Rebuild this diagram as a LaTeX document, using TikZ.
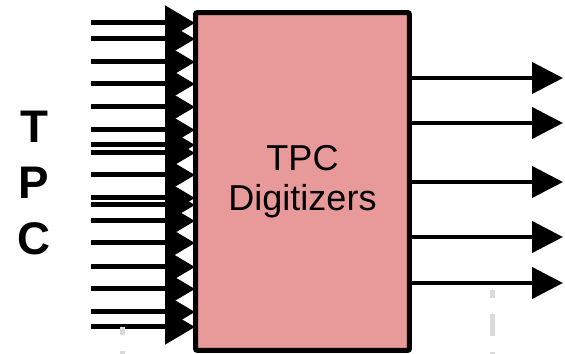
\documentclass[tikz,border=0pt]{standalone}
\usepackage{fontspec}
\setmainfont{Liberation Sans}
\usepackage{tikz}
\usetikzlibrary{arrows.meta,positioning}
\definecolor{digpink}{HTML}{E8999A}
\definecolor{guidegray}{HTML}{D9D9D9}
\tikzset{
  digbox/.style={draw=black,fill=digpink,line width=0.1cm,rounded corners=0.04cm,
    minimum width=4.28cm,minimum height=6.76cm,align=center,
    font=\fontsize{20.5pt}{22.8pt}\selectfont},
  inarrow/.style={-{Triangle[length=0.6cm,width=0.68cm]},line width=0.1cm,black},
  outarrow/.style={-{Triangle[length=0.62cm,width=0.62cm]},line width=0.085cm,black},
  guide/.style={guidegray,line width=0.1cm,dash pattern=on 0.16cm off 0.32cm on 0.44cm off 0.32cm},
  sidelbl/.style={font=\fontsize{26pt}{28pt}\selectfont\bfseries,inner sep=0pt},
}

\begin{document}
\begin{tikzpicture}[x=0.02cm,y=-0.02cm]
    \useasboundingbox (0,0) rectangle (565,354);
    \node[digbox] (dig) at (302.5,181.5) {TPC\\Digitizers};
    % inputs from the TPC
    \foreach \yy [count=\i] in {23,39,62,84,107,130,145,153,175,198,205,221,243,267,289,312,327}{
      \coordinate (in\i) at (91,\yy);
      \draw[inarrow] (in\i) -- ([xshift=0.04cm]in\i -| dig.west);
    }
    % outputs
    \foreach \yy [count=\i] in {78,123,182,237,283}{
      \coordinate (out\i) at (563,\yy);
      \draw[outarrow] (out\i -| dig.east) -- (out\i);
    }
    \foreach \ch/\yy in {T/127,P/183,C/239}
      \node[sidelbl] (lbl\ch) at (34,\yy) {\ch};
    \draw[guide] (122,327) -- (122,354);
    \draw[guide] (492,290) -- (492,354);
  \end{tikzpicture}
\end{document}
